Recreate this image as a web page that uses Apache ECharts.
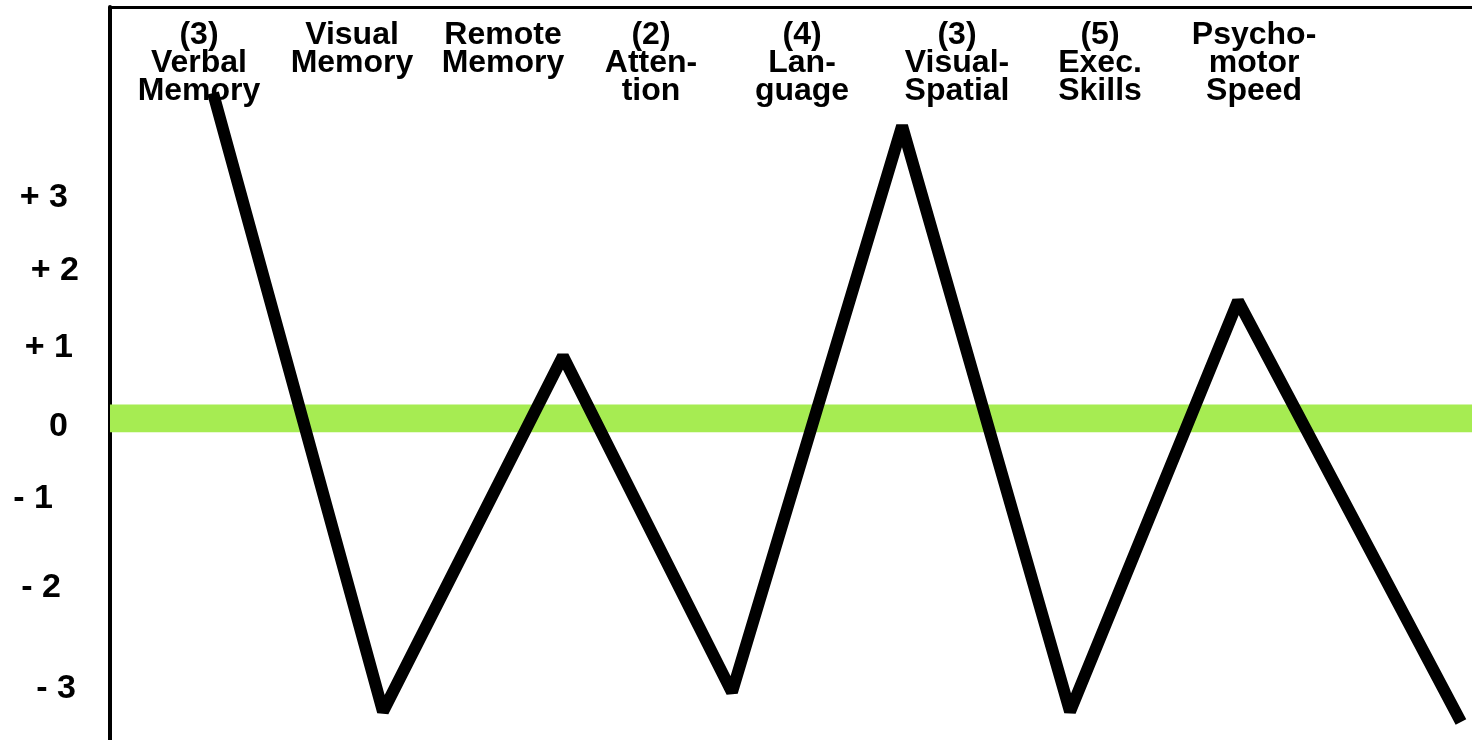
<!DOCTYPE html>
<html>
<head>
<meta charset="utf-8">
<script src="https://cdn.jsdelivr.net/npm/echarts@6/dist/echarts.min.js"></script>
<style>
  html, body { margin: 0; padding: 0; background: #fff; }
  #chart { width: 1472px; height: 740px; }
</style>
</head>
<body>
<div id="chart"></div>
<script>
// domain labels across the top, and where they sit on the x scale
const domains = [
  '(3)\nVerbal\nMemory', 'Visual\nMemory', 'Remote\nMemory', '(2)\nAtten-\ntion',
  '(4)\nLan-\nguage', '(3)\nVisual-\nSpatial', '(5)\nExec.\nSkills', 'Psycho-\nmotor\nSpeed'
];
const domainPos = [0.588, 1.599, 2.597, 3.575, 4.573, 5.597, 6.542, 7.560];

// the zig-zag profile
const profileX = [0.681, 1.804, 2.993, 4.110, 5.234, 6.344, 7.454, 8.927];
const profileY = [4.35, -3.92, 0.83, -3.66, 3.91, -3.92, 1.57, -4.06];

// score labels on the left (hand placed, not evenly spaced)
const scoreTicks = [2.95, 1.97, 0.94, -0.11, -1.07, -2.26, -3.61];
const scoreLabels = ['+ 3', '+ 2', '+ 1', '0', '- 1', '- 2', '- 3'];

const font = '"Liberation Sans", Arial, Helvetica, sans-serif';
const labelShift = [12, 1, 7, 12, 27, 19, 4];

const rich = {};
labelShift.forEach((p, i) => {
  rich['s' + i] = {
    fontSize: 34, fontWeight: 'bold', fontFamily: font, color: '#000',
    padding: [0, p, 0, 0]
  };
});

const chart = echarts.init(document.getElementById('chart'));

chart.setOption({
  animation: false,
  grid: { left: 110, right: 0, top: 7, bottom: 0 },
  xAxis: [
    { type: 'value', min: 0, max: 9, show: false },
    {
      type: 'value',
      min: 0,
      max: 9,
      position: 'top',
      axisLine: { show: true, onZero: false, lineStyle: { color: '#000', width: 3 } },
      axisTick: { show: false },
      splitLine: { show: false },
      axisLabel: {
        inside: true,
        margin: 14,
        customValues: domainPos,
        formatter: (v) => domains[domainPos.indexOf(v)] ?? '',
        color: '#000',
        fontSize: 32,
        fontWeight: 'bold',
        fontFamily: font,
        lineHeight: 28,
        align: 'center',
        verticalAlign: 'top'
      }
    }
  ],
  yAxis: {
    type: 'value',
    min: -4.3,
    max: 5.5,
    axisLine: { show: true, onZero: false, lineStyle: { color: '#000', width: 4 } },
    axisTick: { show: false },
    splitLine: { show: false },
    axisLabel: {
      margin: 30,
      customValues: scoreTicks,
      formatter: (v) => {
        const i = scoreTicks.indexOf(v);
        return i < 0 ? '' : '{s' + i + '|' + scoreLabels[i] + '}';
      },
      rich
    }
  },
  series: [
    {
      type: 'line',
      z: 1,
      data: [],
      markArea: {
        silent: true,
        itemStyle: { color: '#a6ec52' },
        data: [[{ yAxis: -0.185 }, { yAxis: 0.185 }]]
      }
    },
    {
      type: 'line',
      z: 3,
      data: profileX.map((x, i) => [x, profileY[i]]),
      symbol: 'none',
      lineStyle: { color: '#000', width: 12, join: 'bevel', cap: 'butt' }
    }
  ]
});
</script>
</body>
</html>
